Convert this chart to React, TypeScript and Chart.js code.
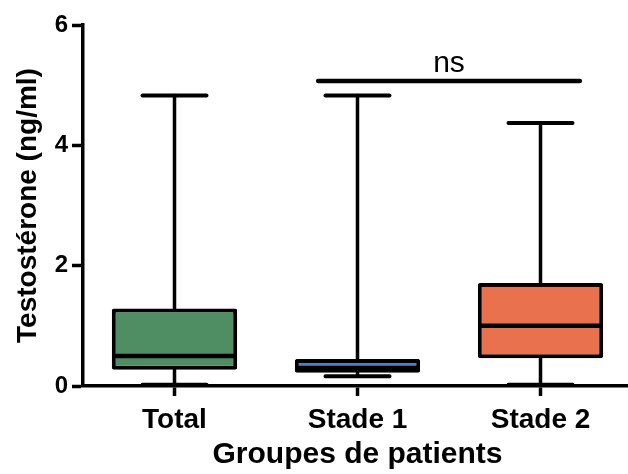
import React, { useEffect, useRef } from "react";
import { Chart, registerables } from "chart.js";

Chart.register(...registerables);

const categories = ["Total", "Stade 1", "Stade 2"];
const minValues = [0.02, 0.16, 0.02];
const q1Values = [0.27, 0.22, 0.46];
const medianValues = [0.5, 0.3, 1.0];
const q3Values = [1.29, 0.45, 1.71];
const maxValues = [4.83, 4.83, 4.37];
const boxColors = ["#4E8E62", "#4E82BC", "#E9714D"];
const yTicks = [0, 2, 4, 6];
const sigPair = [1, 2];
const sigLevel = 5.07;
const sigLabel = "ns";

const FONT = "'Liberation Sans', Arial, Helvetica, sans-serif";

const boxPlugin = {
  id: "boxExtras",
  beforeDatasetsDraw(chart: any) {
    const ctx = chart.ctx;
    const xs = chart.scales.x;
    const ys = chart.scales.y;
    ctx.save();
    ctx.strokeStyle = "#000";
    ctx.lineCap = "round";
    categories.forEach((_, i) => {
      const x = xs.getPixelForValue(i);
      const capHalf = 0.175 * (xs.getPixelForValue(1) - xs.getPixelForValue(0));
      ctx.lineWidth = 3.5;
      ctx.beginPath();
      ctx.moveTo(x, ys.getPixelForValue(q3Values[i]));
      ctx.lineTo(x, ys.getPixelForValue(maxValues[i]));
      ctx.moveTo(x, ys.getPixelForValue(q1Values[i]));
      ctx.lineTo(x, ys.getPixelForValue(minValues[i]));
      ctx.stroke();
      ctx.lineWidth = 4;
      ctx.beginPath();
      ctx.moveTo(x - capHalf, ys.getPixelForValue(maxValues[i]));
      ctx.lineTo(x + capHalf, ys.getPixelForValue(maxValues[i]));
      ctx.moveTo(x - capHalf, ys.getPixelForValue(minValues[i]));
      ctx.lineTo(x + capHalf, ys.getPixelForValue(minValues[i]));
      ctx.stroke();
    });
    ctx.restore();
  },
  afterDatasetsDraw(chart: any) {
    const ctx = chart.ctx;
    const xs = chart.scales.x;
    const ys = chart.scales.y;
    const meta = chart.getDatasetMeta(0);
    ctx.save();
    ctx.strokeStyle = "#000";
    ctx.lineWidth = 4.5;
    categories.forEach((_, i) => {
      const el = meta.data[i];
      const half = el.width / 2;
      const y = ys.getPixelForValue(medianValues[i]);
      ctx.beginPath();
      ctx.moveTo(el.x - half + 2, y);
      ctx.lineTo(el.x + half - 2, y);
      ctx.stroke();
    });
    // significance bar
    const step = xs.getPixelForValue(1) - xs.getPixelForValue(0);
    const xa = xs.getPixelForValue(sigPair[0]) - 0.215 * step;
    const xb = xs.getPixelForValue(sigPair[1]) + 0.215 * step;
    const ySig = ys.getPixelForValue(sigLevel);
    ctx.lineCap = "round";
    ctx.lineWidth = 4.5;
    ctx.beginPath();
    ctx.moveTo(xa, ySig);
    ctx.lineTo(xb, ySig);
    ctx.stroke();
    ctx.fillStyle = "#000";
    ctx.font = `30px ${FONT}`;
    ctx.textAlign = "center";
    ctx.textBaseline = "alphabetic";
    ctx.fillText(sigLabel, (xa + xb) / 2, ySig - 9);
    ctx.restore();
  },
};

export default function App() {
  const ref = useRef<HTMLCanvasElement | null>(null);
  useEffect(() => {
    if (!ref.current) return;
    const chart = new Chart(ref.current, {
      type: "bar",
      data: {
        labels: categories,
        datasets: [
          {
            data: categories.map((_, i) => [q1Values[i], q3Values[i]]) as any,
            backgroundColor: boxColors,
            borderColor: "#000",
            borderWidth: 4,
            borderRadius: 2,
            borderSkipped: false,
            barPercentage: 0.685,
            categoryPercentage: 1,
          },
        ],
      },
      options: {
        responsive: false,
        animation: false,
        events: [],
        layout: { padding: { top: 25, right: 0, left: 0, bottom: 0 } },
        plugins: { legend: { display: false }, tooltip: { enabled: false } },
        scales: {
          x: {
            offset: true,
            afterFit: (s: any) => {
              s.height = 88;
            },
            grid: {
              offset: false,
              drawOnChartArea: false,
              drawTicks: true,
              tickLength: 10,
              tickWidth: 3.5,
              tickColor: "#000",
            },
            border: { display: true, color: "#000", width: 3.5 },
            ticks: {
              color: "#000",
              padding: 7,
              font: { family: FONT, size: 28, weight: "bold" },
            },
            title: {
              display: true,
              text: "Groupes de patients",
              color: "#000",
              padding: { top: 0, bottom: 1 },
              font: { family: FONT, size: 30, weight: "bold" },
            },
          },
          y: {
            min: 0,
            max: 6,
            afterFit: (s: any) => {
              s.width = 83;
            },
            afterBuildTicks: (s: any) => {
              s.ticks = yTicks.map((v) => ({ value: v }));
            },
            grid: {
              drawOnChartArea: false,
              drawTicks: true,
              tickLength: 11,
              tickWidth: 3.5,
              tickColor: "#000",
            },
            border: { display: true, color: "#000", width: 3.5 },
            ticks: {
              color: "#000",
              padding: 4,
              font: { family: FONT, size: 24, weight: "bold" },
            },
            title: {
              display: true,
              text: "Testostérone (ng/ml)",
              color: "#000",
              padding: { top: 11, bottom: 0 },
              font: { family: FONT, size: 28, weight: "bold" },
            },
          },
        },
      },
      plugins: [boxPlugin],
    });
    return () => chart.destroy();
  }, []);
  return (
    <div
      style={{
        position: "absolute",
        left: 0,
        top: 0,
        width: 628,
        height: 474,
        overflow: "hidden",
        background: "#fff",
      }}
    >
      <canvas ref={ref} width={632} height={474} style={{ display: "block" }} />
    </div>
  );
}
